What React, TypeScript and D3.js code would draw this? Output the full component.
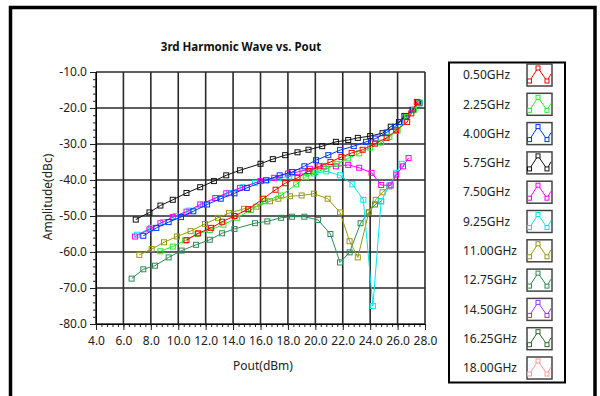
import * as d3 from "d3"
import { useEffect, useRef } from "react"

const WIDTH = 600
const HEIGHT = 396

const title = "3rd Harmonic Wave vs. Pout"
const xLabel = "Pout(dBm)"
const yLabel = "Amplitude(dBc)"

const xTicks = [4, 6, 8, 10, 12, 14, 16, 18, 20, 22, 24, 26, 28]
const yTicks = [-10, -20, -30, -40, -50, -60, -70, -80]

const freqLabels = [
  "0.50GHz",
  "2.25GHz",
  "4.00GHz",
  "5.75GHz",
  "7.50GHz",
  "9.25GHz",
  "11.00GHz",
  "12.75GHz",
  "14.50GHz",
  "16.25GHz",
  "18.00GHz",
]
const freqColors = [
  "#ff0000",
  "#22ee22",
  "#0033ff",
  "#111111",
  "#ff00ff",
  "#00e8f0",
  "#999911",
  "#2e8b57",
  "#9933ff",
  "#336633",
  "#ff9999",
]

// Pout (dBm) and amplitude (dBc) per frequency
const pout050 = [10.6, 11.45, 12.4, 13.2, 14.1, 15.1, 16.2, 17.1, 17.8, 18.7, 19.5, 20.3, 21.1, 21.9, 22.65, 23.45, 24.35, 25.2, 25.9, 26.7, 27.0, 27.4]
const amp050 = [-56.7, -54.8, -53.3, -51.6, -50.0, -48.1, -45.2, -42.7, -40.9, -39.4, -37.5, -36.2, -35.0, -33.6, -32.5, -31.6, -29.9, -28.3, -26.2, -23.9, -21.5, -18.3]

const pout225 = [8.7, 9.6, 10.5, 11.4, 12.3, 13.3, 14.3, 15.3, 16.3, 17.5, 18.6, 19.3, 20.0, 20.8, 21.6, 22.4, 23.2, 24.0, 24.8, 25.4, 26.0, 26.7, 27.2, 27.6]
const amp225 = [-59.8, -58.5, -56.8, -55.0, -53.9, -52.4, -50.5, -48.3, -45.9, -44.3, -41.2, -39.2, -37.8, -36.9, -35.5, -34.0, -32.6, -31.0, -29.6, -28.0, -26.3, -22.5, -20.5, -18.5]

const pout400 = [7.45, 8.4, 9.3, 10.2, 11.1, 12.1, 13.1, 14.1, 15.0, 16.4, 17.4, 18.3, 19.2, 20.05, 20.95, 21.8, 22.8, 23.7, 24.4, 25.2, 25.8, 26.2, 26.6, 27.1, 27.6]
const amp400 = [-55.5, -53.3, -51.7, -50.3, -48.7, -46.8, -45.2, -43.7, -42.2, -40.1, -38.7, -37.8, -36.2, -34.5, -33.1, -31.7, -30.6, -29.4, -28.5, -26.8, -25.2, -23.9, -22.3, -20.6, -18.7]

const pout575 = [6.9, 7.9, 8.7, 9.6, 10.6, 11.6, 12.6, 13.5, 14.5, 16.0, 16.9, 17.8, 18.7, 19.5, 20.5, 21.5, 22.4, 23.1, 24.0, 24.9, 25.5, 26.1, 26.5, 27.1, 27.5]
const amp575 = [-51.0, -49.0, -47.1, -45.5, -43.6, -42.0, -40.3, -38.7, -37.3, -35.5, -34.2, -33.1, -32.3, -31.6, -30.6, -29.4, -28.9, -28.3, -27.8, -27.0, -25.2, -23.9, -22.2, -20.5, -18.5]

const pout750 = [6.85, 7.9, 8.7, 9.6, 10.6, 11.6, 12.7, 13.5, 14.5, 16.0, 17.0, 18.0, 18.7, 19.6, 20.6, 21.5, 22.4, 23.2, 24.1, 24.8, 25.5, 25.9, 26.4, 26.8]
const amp750 = [-55.7, -53.7, -52.0, -50.3, -48.8, -46.8, -45.0, -43.7, -42.2, -40.3, -39.4, -38.2, -37.8, -36.9, -36.2, -36.2, -35.8, -36.6, -38.0, -41.4, -41.5, -38.5, -36.2, -33.9]

const pout925 = [7.0, 8.0, 8.9, 9.8, 10.8, 11.8, 12.8, 13.7, 14.7, 15.6, 16.5, 17.3, 18.1, 19.2, 19.9, 20.8, 21.8, 22.7, 23.5, 24.2, 24.8, 25.4, 25.9, 26.3]
const amp925 = [-55.2, -53.3, -51.7, -50.0, -48.5, -46.8, -45.0, -43.6, -42.0, -40.8, -40.0, -39.5, -39.0, -38.1, -38.2, -37.6, -38.7, -41.2, -45.5, -75.0, -45.9, -41.5, -38.0, -35.5]

const pout1100 = [7.16, 8.06, 8.96, 9.9, 10.9, 11.95, 12.9, 13.7, 14.8, 15.7, 16.7, 17.3, 18.15, 19.0, 19.9, 20.9, 21.8, 22.5, 23.1, 23.9, 24.4, 24.9, 25.4]
const amp1100 = [-60.8, -59.2, -57.3, -55.7, -54.2, -52.2, -50.5, -49.2, -48.0, -47.4, -45.9, -45.2, -44.5, -44.3, -43.8, -45.2, -49.0, -57.0, -61.5, -49.0, -45.5, -43.4, -41.8]

const pout1275 = [6.6, 7.45, 8.3, 9.3, 10.25, 11.3, 12.3, 13.2, 14.1, 15.6, 16.5, 17.5, 18.3, 19.2, 20.2, 21.1, 21.8, 22.5, 23.3, 23.9, 24.35, 24.8]
const amp1275 = [-67.4, -64.8, -63.8, -61.5, -59.6, -58.0, -56.6, -54.8, -53.6, -52.0, -51.5, -50.5, -50.2, -50.2, -51.1, -55.0, -62.9, -60.1, -52.0, -49.0, -46.8, -45.9]

// no visible traces for the three highest frequencies
const pout1450: number[] = []
const amp1450: number[] = []
const pout1625: number[] = []
const amp1625: number[] = []
const pout1800: number[] = []
const amp1800: number[] = []

const seriesPout = [pout050, pout225, pout400, pout575, pout750, pout925, pout1100, pout1275, pout1450, pout1625, pout1800]
const seriesAmp = [amp050, amp225, amp400, amp575, amp750, amp925, amp1100, amp1275, amp1450, amp1625, amp1800]

type Pt = { x: number; y: number }

const FONT = "'Noto Sans', 'DejaVu Sans', sans-serif"
// plain hyphen instead of d3's unicode minus
const fmt = (d: number) => d3.format(".1f")(d).replace("\u2212", "-")

const App = () => {
  const svgRef = useRef<SVGSVGElement>(null)

  useEffect(() => {
    if (!svgRef.current) return
    const svg = d3.select(svgRef.current)
    svg.selectAll("*").remove()

    const PLOT = { left: 96, right: 425, top: 72, bottom: 324 }

    const xScale = d3.scaleLinear().domain([4, 28]).range([PLOT.left, PLOT.right])
    const yScale = d3.scaleLinear().domain([-80, -10]).range([PLOT.bottom, PLOT.top])

    svg.append("rect").attr("width", WIDTH).attr("height", HEIGHT).attr("fill", "#fff")

    // outer frame
    svg
      .append("rect")
      .attr("x", 10.5)
      .attr("y", 7.5)
      .attr("width", 584.5)
      .attr("height", 420)
      .attr("fill", "none")
      .attr("stroke", "#000")
      .attr("stroke-width", 3.5)

    svg
      .append("text")
      .attr("x", 241)
      .attr("y", 51)
      .attr("text-anchor", "middle")
      .attr("font-family", FONT)
      .attr("font-size", "11.5px")
      .attr("font-weight", "bold")
      .attr("fill", "#111")
      .text(title)

    // grid
    const grid = svg.append("g")
    grid
      .selectAll("line.vx")
      .data(xTicks)
      .join("line")
      .attr("x1", (d) => xScale(d))
      .attr("x2", (d) => xScale(d))
      .attr("y1", PLOT.top)
      .attr("y2", PLOT.bottom)
      .attr("stroke", "#2a2a2a")
      .attr("stroke-width", 1.6)
    grid
      .selectAll("line.hy")
      .data(yTicks)
      .join("line")
      .attr("x1", PLOT.left)
      .attr("x2", PLOT.right)
      .attr("y1", (d) => yScale(d))
      .attr("y2", (d) => yScale(d))
      .attr("stroke", "#2a2a2a")
      .attr("stroke-width", 1.6)

    // axes: major + minor ticks
    const minorY = d3.range(-80, -9, 2)
    const minorX = d3.range(4, 28.01, 0.4)

    const yAxisMinor = svg
      .append("g")
      .attr("transform", `translate(${PLOT.left},0)`)
      .call(d3.axisLeft(yScale).tickValues(minorY).tickSize(3).tickFormat(() => ""))
    const yAxis = svg
      .append("g")
      .attr("transform", `translate(${PLOT.left},0)`)
      .call(
        d3
          .axisLeft(yScale)
          .tickValues(yTicks)
          .tickSize(6)
          .tickPadding(3)
          .tickFormat((d) => fmt(d as number)),
      )
    const xAxisMinor = svg
      .append("g")
      .attr("transform", `translate(0,${PLOT.bottom})`)
      .call(d3.axisBottom(xScale).tickValues(minorX).tickSize(3).tickFormat(() => ""))
    const xAxis = svg
      .append("g")
      .attr("transform", `translate(0,${PLOT.bottom})`)
      .call(
        d3
          .axisBottom(xScale)
          .tickValues(xTicks)
          .tickSize(6)
          .tickPadding(6)
          .tickFormat((d) => fmt(d as number)),
      )
    for (const ax of [yAxisMinor, yAxis, xAxisMinor, xAxis]) {
      ax.select(".domain").attr("stroke", "#000")
      ax.selectAll(".tick line").attr("stroke", "#222")
      ax.selectAll("text")
        .attr("font-family", FONT)
        .attr("font-size", "12px")
        .attr("fill", "#222")
    }

    svg
      .append("text")
      .attr("x", 263)
      .attr("y", 370)
      .attr("text-anchor", "middle")
      .attr("font-family", FONT)
      .attr("font-size", "12px")
      .attr("fill", "#222")
      .text(xLabel)
    svg
      .append("text")
      .attr("transform", "translate(52,197) rotate(-90)")
      .attr("text-anchor", "middle")
      .attr("font-family", FONT)
      .attr("font-size", "12px")
      .attr("fill", "#222")
      .text(yLabel)

    // series, drawn in reverse so the low frequencies sit on top
    const line = d3
      .line<Pt>()
      .x((d) => xScale(d.x))
      .y((d) => yScale(d.y))
    const MS = 5
    const plotG = svg.append("g")
    for (let i = seriesPout.length - 1; i >= 0; i--) {
      const pts: Pt[] = seriesPout[i].map((x, j) => ({ x, y: seriesAmp[i][j] }))
      if (!pts.length) continue
      const g = plotG.append("g")
      g.append("path")
        .datum(pts)
        .attr("d", line)
        .attr("fill", "none")
        .attr("stroke", freqColors[i])
        .attr("stroke-width", 1)
      g.selectAll("rect")
        .data(pts)
        .join("rect")
        .attr("x", (d) => xScale(d.x) - MS / 2)
        .attr("y", (d) => yScale(d.y) - MS / 2)
        .attr("width", MS)
        .attr("height", MS)
        .attr("fill", "none")
        .attr("stroke", freqColors[i])
        .attr("stroke-width", 1)
    }

    // legend
    const leg = svg.append("g")
    leg
      .append("rect")
      .attr("x", 449)
      .attr("y", 62.5)
      .attr("width", 116)
      .attr("height", 320)
      .attr("fill", "#fff")
      .attr("stroke", "#000")
      .attr("stroke-width", 2)
    const legY = d3.scaleLinear().domain([0, 10]).range([75, 368])
    freqLabels.forEach((label, i) => {
      const cy = legY(i)
      const item = leg.append("g")
      item
        .append("text")
        .attr("x", 463)
        .attr("y", cy)
        .attr("dy", "0.35em")
        .attr("font-family", FONT)
        .attr("font-size", "12px")
        .attr("fill", "#222")
        .text(label)
      item
        .append("rect")
        .attr("x", 527)
        .attr("y", cy - 11)
        .attr("width", 25)
        .attr("height", 22)
        .attr("fill", "#fff")
        .attr("stroke", "#444")
        .attr("stroke-width", 1.5)
      const icon: [number, number][] = [
        [529.5, cy + 6],
        [538, cy - 7],
        [547, cy + 6],
        [551, cy - 1],
      ]
      item
        .append("path")
        .attr("d", d3.line()(icon))
        .attr("fill", "none")
        .attr("stroke", freqColors[i])
        .attr("stroke-width", 1)
      item
        .selectAll("rect.m")
        .data(icon.slice(0, 3))
        .join("rect")
        .attr("class", "m")
        .attr("x", (d) => d[0] - 2)
        .attr("y", (d) => d[1] - 2)
        .attr("width", 4)
        .attr("height", 4)
        .attr("fill", "#fff")
        .attr("stroke", freqColors[i])
        .attr("stroke-width", 1)
    })
  }, [])

  return (
    <svg
      ref={svgRef}
      width={WIDTH}
      height={HEIGHT}
      style={{ display: "block", position: "absolute", left: 0, top: 0 }}
    />
  )
}

export default App
